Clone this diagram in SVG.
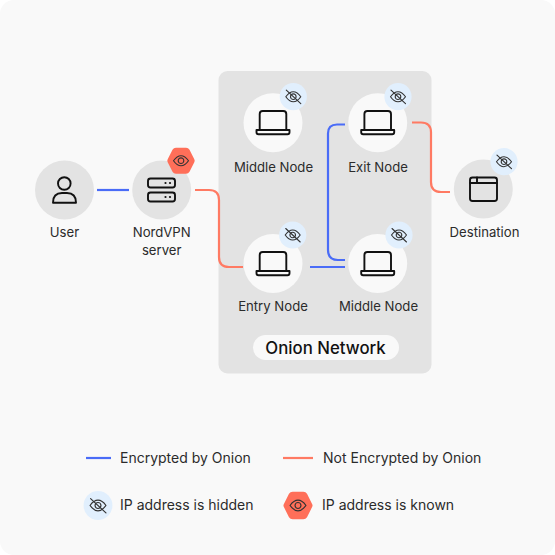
<svg xmlns="http://www.w3.org/2000/svg" width="555" height="555" viewBox="0 0 555 555">
<style>
text{font-family:Inter,"Liberation Sans",sans-serif;font-size:13.150px;fill:#2b2b2b;text-anchor:middle}
.lg{text-anchor:start;font-size:14px}
.wire{fill:none;stroke-width:2.2}
.b{stroke:#4a6cf7}.o{stroke:#ff7a63}
.ic{fill:none;stroke:#111;stroke-width:1.900;stroke-linejoin:round;stroke-linecap:round}
.eye{fill:none;stroke:#333;stroke-width:1.100;stroke-linecap:round;stroke-linejoin:round}
.grey{fill:#e3e3e3}.light{fill:#f9f9f9}.blue{fill:#e1effd}.red{fill:#ff6f59}
</style>
<defs>
<g id="laptop"><path class="ic" d="M-13.300-1V-17a3 3 0 0 1 3-3H10.300a3 3 0 0 1 3 3V-1"/><path class="ic" d="M-16.500-1H16.500V1.300a2 2 0 0 1-2 2H-14.500a2 2 0 0 1-2-2Z"/></g>
<g id="hidden"><circle r="13.600" class="blue"/><path class="eye" d="M-7.500 0C-5-3.500-2-5 0-5S5-3.500 7.500 0C5 3.500 2 5 0 5S-5 3.500-7.500 0Z"/><circle r="2.800" class="eye"/><path class="eye" d="M-7-6.500L7.500 7"/></g>
<g id="known"><path class="red" d="M-13.300-1.500L-8.500-11a4 4 0 0 1 3.500-2H5a4 4 0 0 1 3.500 2L13.300-1.500a3 3 0 0 1 0 3L8.500 11a4 4 0 0 1-3.500 2H-5a4 4 0 0 1-3.500-2L-13.300 1.500a3 3 0 0 1 0-3Z"/><path class="eye" d="M-7.500 0C-5-3.500-2-5 0-5S5-3.500 7.500 0C5 3.500 2 5 0 5S-5 3.500-7.500 0Z"/><circle r="2.800" class="eye"/></g>
</defs>
<rect width="555" height="555" rx="14" class="light"/>
<rect id="onion-panel" x="218.500" y="71" width="213" height="302.500" rx="9" class="grey"/>
<g id="connectors">
<path class="wire b" d="M97 190H129"/>
<path class="wire o" d="M195 190H209Q219 190 219 200V257Q219 267 229 267H243"/>
<path class="wire b" d="M310 267H345"/>
<path class="wire b" d="M345 124.500H337Q328 124.500 328 133.500V250Q328 260 338 260H345"/>
<path class="wire o" d="M412 122.500H421Q431 122.500 431 132.500V182Q431 192 441 192H450"/>
</g>
<g id="user"><circle cx="64.500" cy="190" r="29.500" class="grey"/><circle cx="64.300" cy="183.500" r="6.300" class="ic"/><path class="ic" d="M53 202.700Q53 193 62 193H67Q76 193 76 202.700Z"/><text x="64.500" y="237">User</text></g>
<g id="nordvpn"><circle cx="161.700" cy="190" r="29.500" class="grey"/><rect x="148" y="178.500" width="27" height="9" rx="2.500" class="ic"/><rect x="148" y="192.500" width="27" height="9" rx="2.500" class="ic"/><g fill="#111"><circle cx="165.500" cy="183" r="1.100"/><circle cx="170" cy="183" r="1.100"/><circle cx="165.500" cy="197" r="1.100"/><circle cx="170" cy="197" r="1.100"/></g><use href="#known" x="181" y="160.700"/><text x="161.700" y="237">NordVPN</text><text x="161.700" y="255">server</text></g>
<g id="middle-top"><circle cx="273" cy="122.700" r="29.500" class="light"/><use href="#laptop" x="273" y="131"/><use href="#hidden" x="293.300" y="96.700"/><text x="273.500" y="172">Middle Node</text></g>
<g id="exit"><circle cx="377.700" cy="122.700" r="29.500" class="light"/><use href="#laptop" x="377.700" y="131"/><use href="#hidden" x="398" y="96.700"/><text x="378" y="172">Exit Node</text></g>
<g id="entry"><circle cx="273" cy="263.500" r="29.500" class="light"/><use href="#laptop" x="273" y="272"/><use href="#hidden" x="292.700" y="235"/><text x="273" y="311">Entry Node</text></g>
<g id="middle-low"><circle cx="377.700" cy="263.500" r="29.500" class="light"/><use href="#laptop" x="377.700" y="272"/><use href="#hidden" x="399" y="235"/><text x="378.500" y="311">Middle Node</text></g>
<g id="destination"><circle cx="483.300" cy="189" r="29.500" class="grey"/><rect x="470" y="177.500" width="27" height="23.500" rx="2.500" class="ic"/><path class="ic" d="M470 183H497M477 177.500V183"/><use href="#hidden" x="504" y="161.700"/><text x="484.500" y="237">Destination</text></g>
<g id="onion-label"><rect x="253" y="335" width="146" height="25" rx="12.500" class="light"/><text x="325.500" y="353.500" style="font-size:16.800px;font-weight:500;fill:#111">Onion Network</text></g>
<g id="legend">
<path class="wire b" d="M86 458H111"/><text class="lg" x="120" y="463">Encrypted by Onion</text>
<path class="wire o" d="M283 458H313"/><text class="lg" x="323" y="463">Not Encrypted by Onion</text>
<use href="#hidden" transform="translate(98 505.500) scale(1.060)"/><text class="lg" x="120" y="510">IP address is hidden</text>
<use href="#known" transform="translate(298 505.500) scale(1.060)"/><text class="lg" x="322" y="510">IP address is known</text>
</g>
</svg>
